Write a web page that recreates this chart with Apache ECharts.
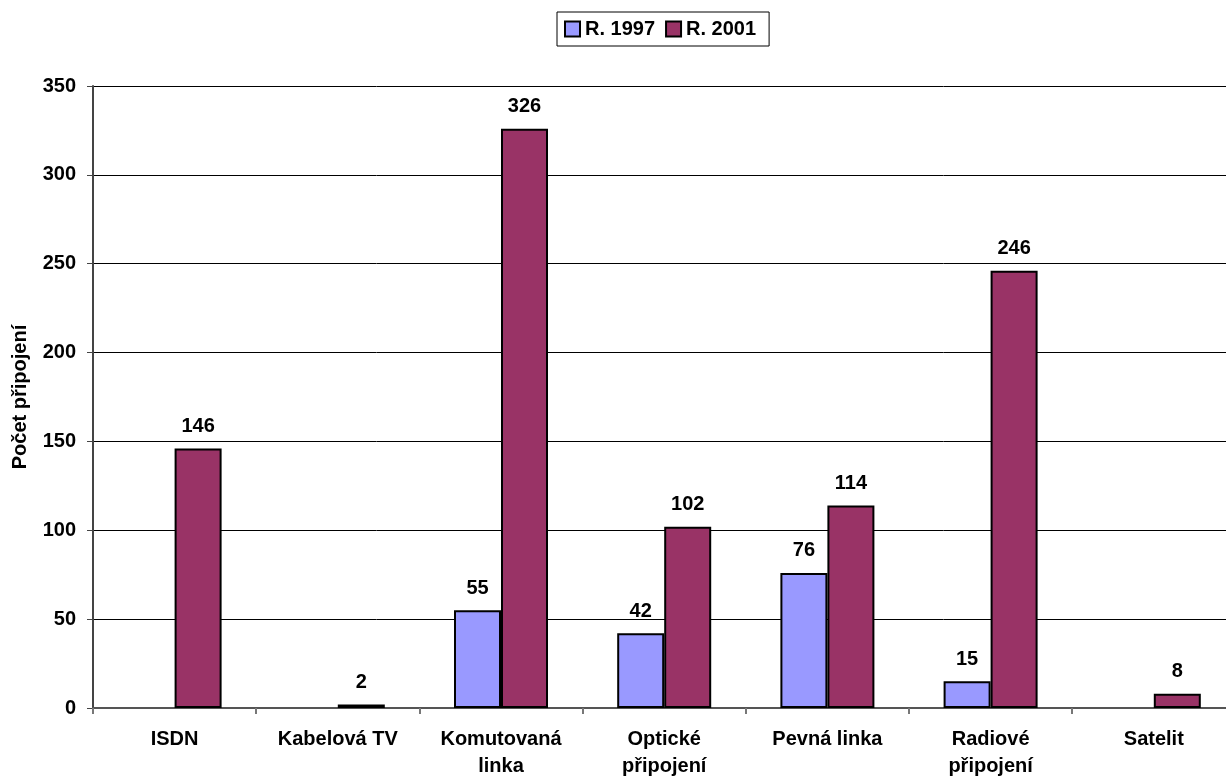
<!DOCTYPE html>
<html>
<head>
<meta charset="utf-8">
<script src="https://cdn.jsdelivr.net/npm/echarts@6/dist/echarts.min.js"></script>
<style>
  html, body { margin: 0; padding: 0; background: #fff; }
  #chart { width: 1226px; height: 779px; }
</style>
</head>
<body>
<div id="chart"></div>
<script>
var categories = ['ISDN', 'Kabelová TV', 'Komutovaná\nlinka', 'Optické\npřipojení', 'Pevná linka', 'Radiové\npřipojení', 'Satelit']
var values1997 = [null, null, 55, 42, 76, 15, null]
var values2001 = [146, 2, 326, 102, 114, 246, 8]
var yTicks = { min: 0, max: 350, interval: 50 }

var font = 'Liberation Sans, Arial, sans-serif'
var myChart = echarts.init(document.getElementById('chart'))

function barSeries (name, data, color) {
  return {
    name: name,
    type: 'bar',
    data: data,
    barWidth: 47,
    barGap: '0%',
    itemStyle: { color: color, borderColor: '#000', borderWidth: 2 },
    label: {
      show: true,
      position: 'top',
      distance: 12,
      color: '#000',
      fontFamily: font,
      fontWeight: 'bold',
      fontSize: 20
    }
  }
}

var option = {
  animation: false,
  backgroundColor: '#fff',
  legend: {
    top: 12,
    left: 557,
    data: ['R. 1997', 'R. 2001'],
    borderColor: '#000',
    borderWidth: 1,
    padding: [7, 13, 7, 7],
    itemWidth: 15,
    itemHeight: 15,
    itemGap: 10,
    icon: 'rect',
    itemStyle: { borderColor: '#000', borderWidth: 2 },
    textStyle: { fontFamily: font, fontWeight: 'bold', fontSize: 20, color: '#000' }
  },
  // the source image is cut off a few pixels past the last category
  grid: { left: 93, right: -9.4, top: 86, bottom: 71, outerBoundsMode: 'none' },
  xAxis: {
    type: 'category',
    data: categories,
    axisLine: { lineStyle: { color: '#555', width: 2 } },
    axisTick: { show: true, length: 6, lineStyle: { color: '#777', width: 2 } },
    axisLabel: {
      color: '#000',
      fontFamily: font,
      fontWeight: 'bold',
      fontSize: 20,
      lineHeight: 27,
      margin: 18,
      interval: 0
    }
  },
  yAxis: {
    type: 'value',
    min: yTicks.min,
    max: yTicks.max,
    interval: yTicks.interval,
    name: 'Počet připojení',
    nameLocation: 'middle',
    nameGap: 63,
    nameRotate: 90,
    nameTextStyle: { color: '#000', fontFamily: font, fontWeight: 'bold', fontSize: 20 },
    axisLine: { show: true, lineStyle: { color: '#444', width: 2 } },
    axisTick: { show: true, inside: false, length: 6, lineStyle: { color: '#444', width: 1 } },
    axisLabel: { color: '#000', fontFamily: font, fontWeight: 'bold', fontSize: 20, margin: 17 },
    splitLine: { show: true, lineStyle: { color: '#000', width: 1 } }
  },
  series: [
    barSeries('R. 1997', values1997, '#9999ff'),
    barSeries('R. 2001', values2001, '#993366')
  ]
}

myChart.setOption(option)
</script>
</body>
</html>
